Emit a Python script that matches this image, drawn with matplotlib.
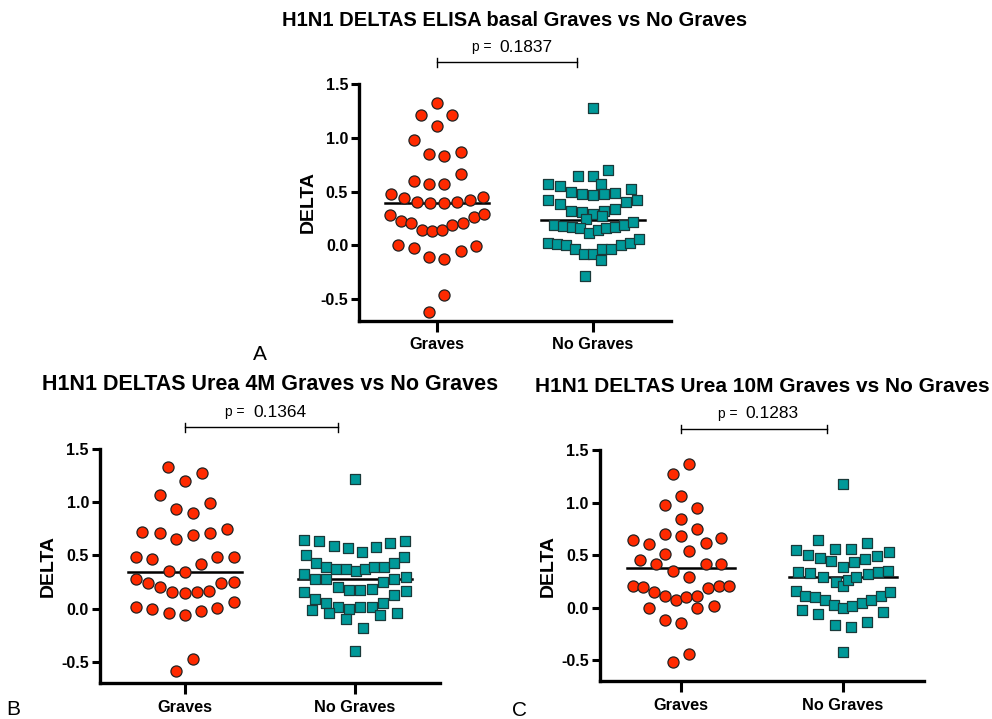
import matplotlib
matplotlib.use("Agg")
from matplotlib import pyplot as plt

plt.rcParams['font.family'] = ['Liberation Sans', 'DejaVu Sans']

RED = '#ff2a00'
TEAL = '#009999'
categories = ["Graves", "No Graves"]

# ---- A: ELISA basal ----
a_grav_x = [0, -0.103, 0.098, 0, -0.15, -0.051, 0.047, 0.15, 0.15, -0.15, -0.051, 0.047,
            -0.299, -0.214, -0.132, -0.043, 0.043, 0.128, 0.209, 0.295,
            -0.303, -0.235, -0.167, -0.098, -0.034, 0.034, 0.098, 0.167, 0.235, 0.299,
            -0.252, -0.15, -0.051, 0.047, 0.15, 0.252, 0.047, -0.051]
a_grav_y = [1.327, 1.21, 1.21, 1.111, 0.975, 0.846, 0.827, 0.864, 0.66, 0.599, 0.568, 0.568,
            0.475, 0.444, 0.407, 0.395, 0.395, 0.407, 0.42, 0.451,
            0.284, 0.222, 0.21, 0.142, 0.136, 0.142, 0.185, 0.21, 0.259, 0.296,
            0.006, -0.025, -0.105, -0.123, -0.049, -0.006, -0.463, -0.623]
a_nog_x = [0, -0.098, 0, 0.098, -0.286, -0.214, -0.141, -0.068, 0, 0.051, 0.073, 0.141, 0.248,
           -0.286, -0.214, 0.286, 0.214, 0.141, 0.073, -0.141, -0.068, 0, 0.056, -0.047,
           -0.252, -0.192, -0.137, -0.081, -0.026, 0.030, 0.085, 0.141, 0.197, 0.256,
           -0.291, -0.231, -0.171, -0.115, -0.06, 0, 0.051, 0.06, 0.115, 0.179, 0.239, 0.295,
           -0.051]
a_nog_y = [1.278, 0.648, 0.642, 0.698, 0.568, 0.549, 0.5, 0.481, 0.469, 0.568, 0.481, 0.488, 0.525,
           0.42, 0.389, 0.426, 0.407, 0.34, 0.321, 0.315, 0.309, 0.29, 0.272, 0.247,
           0.191, 0.179, 0.173, 0.16, 0.117, 0.142, 0.16, 0.173, 0.185, 0.216,
           0.025, 0.012, 0, -0.037, -0.08, -0.08, -0.136, -0.031, -0.031, 0, 0.019, 0.062,
           -0.284]
a_means = [0.395, 0.235]

# ---- B: Urea 4M ----
b_grav_x = [-0.098, 0, 0.098, -0.149, -0.051, 0.047, 0.145, -0.251, -0.149, -0.051, 0.047, 0.145, 0.247,
            -0.286, -0.196, 0.094, 0.188, 0.286, -0.094, 0,
            -0.286, -0.216, -0.145, -0.075, 0, 0.071, 0.141, 0.212, 0.286,
            -0.286, -0.192, -0.094, 0, 0.094, 0.188, 0.286, 0.047, -0.051]
b_grav_y = [1.325, 1.2, 1.269, 1.063, 0.938, 0.9, 0.994, 0.719, 0.706, 0.656, 0.688, 0.713, 0.744,
            0.481, 0.469, 0.419, 0.481, 0.481, 0.35, 0.344,
            0.275, 0.238, 0.2, 0.156, 0.144, 0.156, 0.169, 0.238, 0.25,
            0.019, 0, -0.038, -0.056, -0.025, 0.006, 0.063, -0.475, -0.588]
b_nog_x = [0, -0.298, -0.212, -0.125, -0.043, 0.039, 0.125, 0.208, 0.294, -0.29, 0.29,
           -0.231, -0.173, -0.114, -0.055, 0.004, 0.059, 0.114, 0.173, 0.231,
           -0.302, -0.235, -0.169, -0.102, -0.035, 0.031, 0.098, 0.165, 0.231, 0.298,
           -0.302, -0.235, -0.169, -0.102, -0.035, 0.031, 0.098, 0.165, 0.231, 0.298,
           -0.251, -0.153, -0.051, 0.145, 0.247, 0.047, 0]
b_nog_y = [1.219, 0.644, 0.631, 0.588, 0.569, 0.531, 0.575, 0.613, 0.638, 0.506, 0.481,
           0.431, 0.394, 0.375, 0.369, 0.356, 0.369, 0.388, 0.394, 0.425,
           0.325, 0.281, 0.275, 0.2, 0.175, 0.175, 0.181, 0.25, 0.281, 0.3,
           0.156, 0.088, 0.05, 0.019, 0, 0.013, 0.013, 0.05, 0.125, 0.163,
           -0.013, -0.038, -0.094, -0.056, -0.038, -0.181, -0.394]
b_means = [0.344, 0.275]

# ---- C: Urea 10M ----
c_grav_x = [0.049, -0.049, 0, -0.098, 0.102, 0, 0.102, -0.098, 0, -0.299, -0.197, 0.152, 0.25,
            -0.098, 0.049, -0.25, -0.152, 0.152, 0.25, -0.049, 0.049,
            -0.299, -0.234, -0.168, -0.098, -0.033, 0.033, 0.102, 0.168, 0.234, 0.299,
            -0.197, 0.102, 0.201, -0.098, 0, 0.049, -0.049]
c_grav_y = [1.365, 1.276, 1.067, 0.978, 0.946, 0.844, 0.749, 0.705, 0.679, 0.648, 0.603, 0.616, 0.66,
            0.514, 0.54, 0.451, 0.419, 0.413, 0.419, 0.349, 0.292,
            0.21, 0.197, 0.152, 0.108, 0.07, 0.102, 0.108, 0.184, 0.203, 0.21,
            0, -0.006, 0.019, -0.114, -0.146, -0.444, -0.514]
c_nog_x = [0, -0.152, -0.049, 0.049, 0.148, -0.287, -0.213, -0.143, -0.074, 0, 0.070, 0.139, 0.213, 0.283,
           -0.279, -0.201, -0.123, -0.041, 0, 0.033, 0.082, 0.156, 0.217, 0.279,
           -0.291, -0.234, -0.172, -0.111, -0.057, 0, 0.057, 0.115, 0.172, 0.234, 0.291,
           -0.25, -0.152, -0.049, 0.049, 0.148, 0.25, 0]
c_nog_y = [1.175, 0.648, 0.559, 0.559, 0.616, 0.546, 0.502, 0.476, 0.444, 0.387, 0.438, 0.463, 0.489, 0.527,
           0.343, 0.33, 0.292, 0.248, 0.21, 0.267, 0.292, 0.324, 0.337, 0.349,
           0.159, 0.108, 0.102, 0.07, 0.025, -0.006, 0.019, 0.044, 0.076, 0.108, 0.146,
           -0.019, -0.063, -0.165, -0.184, -0.14, -0.044, -0.419]
c_means = [0.381, 0.292]

panels = [
    dict(rect=[0.3622, 0.5540, 0.3139, 0.3292], title="H1N1 DELTAS ELISA basal Graves vs No Graves",
         tsize=14.5, gx=a_grav_x, gy=a_grav_y, nx=a_nog_x, ny=a_nog_y, means=a_means, p="0.1837",
         letter="A", letter_xy=(0.255, 0.5)),
    dict(rect=[0.1008, 0.0497, 0.3427, 0.3262], title="H1N1 DELTAS Urea 4M Graves vs No Graves",
         tsize=15.5, gx=b_grav_x, gy=b_grav_y, nx=b_nog_x, ny=b_nog_y, means=b_means, p="0.1364",
         letter="B", letter_xy=(0.006, 0.005)),
    dict(rect=[0.6048, 0.0524, 0.3266, 0.3217], title="H1N1 DELTAS Urea 10M Graves vs No Graves",
         tsize=15.0, gx=c_grav_x, gy=c_grav_y, nx=c_nog_x, ny=c_nog_y, means=c_means, p="0.1283",
         letter="C", letter_xy=(0.516, 0.004)),
]

fig = plt.figure(figsize=(9.92, 7.19), dpi=100)

for pn in panels:
    ax = fig.add_axes(pn['rect'])
    ax.scatter(pn['gx'], pn['gy'], s=64, marker='o', facecolor=RED, edgecolor='#222222',
               linewidth=0.9, zorder=3, clip_on=False)
    ax.scatter([1 + v for v in pn['nx']], pn['ny'], s=60, marker='s', facecolor=TEAL,
               edgecolor='#1a3a3a', linewidth=0.9, zorder=3, clip_on=False)
    for i, m in enumerate(pn['means']):
        ax.plot([i - 0.333, i + 0.333], [m, m], color='black', lw=1.8, zorder=2)

    ax.set_xlim(-0.5, 1.5)
    ax.set_ylim(-0.7, 1.5)
    ax.set_xticks([0, 1])
    ax.set_xticklabels(categories, fontsize=11.7, fontweight='bold')
    ax.set_yticks([-0.5, 0.0, 0.5, 1.0, 1.5])
    ax.set_yticklabels(["-0.5", "0.0", "0.5", "1.0", "1.5"], fontsize=11.5, fontweight='bold')
    ax.tick_params(axis='both', direction='out', length=6, width=2.2, pad=2)
    ax.tick_params(axis='x', length=8, pad=4)
    for side in ['top', 'right']:
        ax.spines[side].set_visible(False)
    for side in ['left', 'bottom']:
        ax.spines[side].set_linewidth(2.4)
    ax.set_ylabel("DELTA", fontsize=14, fontweight='bold', labelpad=3)

    # significance bracket
    yb = 1.70
    ax.plot([0, 0.9], [yb, yb], color='black', lw=1.0, clip_on=False)
    for xe in [0, 0.9]:
        ax.plot([xe, xe], [yb - 0.04, yb + 0.04], color='black', lw=1.0, clip_on=False)
    ax.annotate("p =", xy=(0.375, yb), xytext=(-3, 11), textcoords='offset points',
                ha='right', va='center', fontsize=10, annotation_clip=False)
    ax.annotate(pn['p'], xy=(0.375, yb), xytext=(3, 11), textcoords='offset points',
                ha='left', va='center', fontsize=12.5, annotation_clip=False)
    ax.annotate(pn['title'], xy=(0.5, 1.0), xycoords='axes fraction', xytext=(0, 46),
                textcoords='offset points', ha='center', va='center', fontsize=pn['tsize'],
                fontweight='bold', annotation_clip=False)
    fig.text(pn['letter_xy'][0], pn['letter_xy'][1], pn['letter'], fontsize=15)

fig.savefig("out.png", dpi=100)
